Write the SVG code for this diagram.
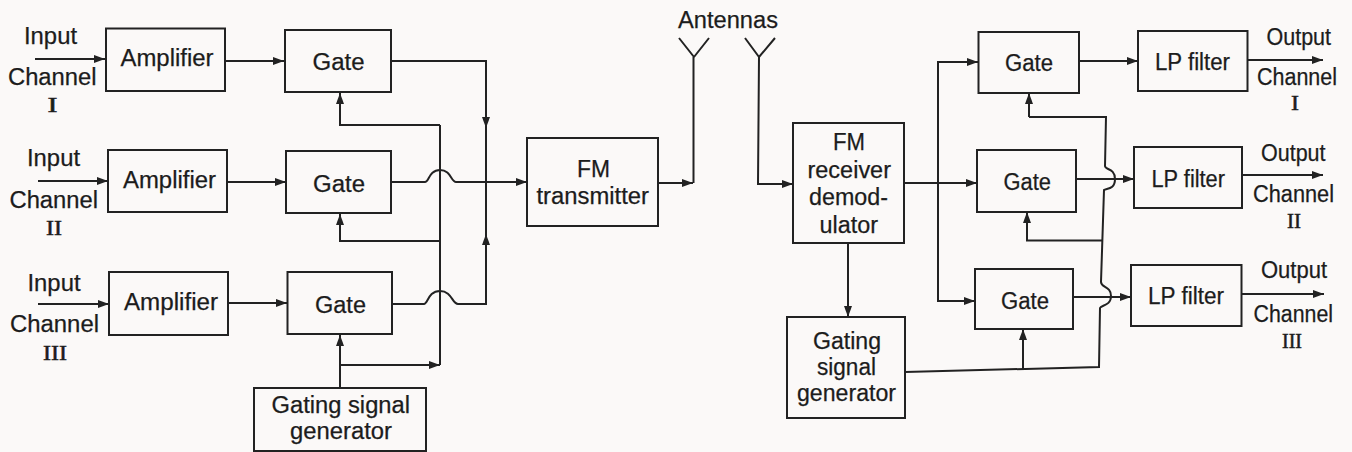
<svg xmlns="http://www.w3.org/2000/svg" width="1352" height="452" viewBox="0 0 1352 452">
<style>
.b{fill:none;stroke:#222;stroke-width:2}
.l{fill:none;stroke:#222;stroke-width:2}
.a{marker-end:url(#h)}
text{font-family:"Liberation Sans",Arial,sans-serif;font-size:23px;fill:#1c1c1c;stroke:#1c1c1c;stroke-width:.25}
.r{font-family:"Liberation Serif","Times New Roman",serif;font-size:20px;stroke-width:.5}
</style>
<defs><marker id="h" markerUnits="userSpaceOnUse" markerWidth="12" markerHeight="10" refX="11" refY="4" orient="auto"><path d="M0 0L11 4L0 8Z" fill="#222"/></marker></defs>
<rect width="1352" height="452" fill="#fbf9f8"/>
<g id="connectors">
<path class="l a" d="M35 59H105"/>
<path class="l a" d="M38 181H108"/>
<path class="l a" d="M38 304H109"/>
<path class="l a" d="M225 61H284"/>
<path class="l a" d="M227 182H286"/>
<path class="l a" d="M228 303H287"/>
<path class="l a" d="M391 61H486V128"/>
<path class="l" d="M486 128V182"/>
<path class="l a" d="M392 304H424C428 304 428 291 440 291C452 291 452 304 458 304H486V234"/>
<path class="l" d="M486 234V182"/>
<path class="l a" d="M391 182H425C429 182 429 170 440 170C451 170 451 182 456 182H527"/>
<path class="l" d="M440 125V365"/>
<path class="l a" d="M440 125H340V93"/>
<path class="l a" d="M440 241H340V214"/>
<path class="l a" d="M340 388V335"/>
<path class="l a" d="M340 365H440"/>
<path class="l a" d="M658 183H693"/>
<path class="l" d="M693.5 183V57M694 57L679 38M694 57L709 38"/>
<path class="l" d="M759 57L745 38M759 57L775 38"/>
<path class="l a" d="M759 57L758 184H793"/>
<path class="l a" d="M904 183H977"/>
<path class="l a" d="M848 243V317"/>
<path class="l a" d="M938 183V62H978"/>
<path class="l a" d="M938 183V301H975"/>
<path class="l a" d="M1079 61H1138"/>
<path class="l a" d="M1076 179H1134"/>
<path class="l a" d="M1073 297H1131"/>
<path class="l a" d="M1247 60H1323"/>
<path class="l a" d="M1242 175H1323"/>
<path class="l a" d="M1241 294H1324"/>
<path class="l" d="M905 372L1099 367L1100 308C1101 305 1111 306 1111 296C1111 286 1101 288 1101 282L1104 190C1106 188 1115 190 1115 179C1115 168 1105 170 1105 166L1106 117H1029"/>
<path class="l a" d="M1029 117V93"/>
<path class="l a" d="M1102 240.500H1027V212"/>
<path class="l a" d="M1023 369V329"/>
</g>
<g id="input1"><text x="24" y="44" textLength="53" lengthAdjust="spacingAndGlyphs">Input</text><text x="8" y="85" textLength="88.500" lengthAdjust="spacingAndGlyphs">Channel</text><text class="r" x="47.500" y="112" textLength="10" lengthAdjust="spacingAndGlyphs">I</text></g>
<g id="input2"><text x="27" y="166" textLength="53" lengthAdjust="spacingAndGlyphs">Input</text><text x="9.500" y="208" textLength="88.500" lengthAdjust="spacingAndGlyphs">Channel</text><text class="r" x="46" y="235" textLength="16" lengthAdjust="spacingAndGlyphs">II</text></g>
<g id="input3"><text x="27.500" y="291" textLength="53" lengthAdjust="spacingAndGlyphs">Input</text><text x="10" y="332" textLength="89" lengthAdjust="spacingAndGlyphs">Channel</text><text class="r" x="43" y="360" textLength="24" lengthAdjust="spacingAndGlyphs">III</text></g>
<g id="amp1"><rect class="b" x="106" y="28.500" width="119" height="62.500"/><text x="120.500" y="66" textLength="93" lengthAdjust="spacingAndGlyphs">Amplifier</text></g>
<g id="amp2"><rect class="b" x="108" y="150" width="119" height="62"/><text x="123" y="188" textLength="93" lengthAdjust="spacingAndGlyphs">Amplifier</text></g>
<g id="amp3"><rect class="b" x="109" y="272" width="119" height="63"/><text x="124" y="310" textLength="94" lengthAdjust="spacingAndGlyphs">Amplifier</text></g>
<g id="gate1"><rect class="b" x="285" y="30" width="106" height="62"/><text x="312.500" y="70" textLength="52" lengthAdjust="spacingAndGlyphs">Gate</text></g>
<g id="gate2"><rect class="b" x="286" y="151" width="105" height="62"/><text x="313" y="192" textLength="52" lengthAdjust="spacingAndGlyphs">Gate</text></g>
<g id="gate3"><rect class="b" x="287.500" y="272" width="104.500" height="62"/><text x="315" y="313" textLength="51" lengthAdjust="spacingAndGlyphs">Gate</text></g>
<g id="fm-transmitter"><rect class="b" x="527" y="138" width="131" height="88"/><text x="577" y="177" textLength="33" lengthAdjust="spacingAndGlyphs">FM</text><text x="536.500" y="204" textLength="112.500" lengthAdjust="spacingAndGlyphs">transmitter</text></g>
<g id="gating-left"><rect class="b" x="254" y="388" width="172" height="63"/><text x="271.500" y="413" textLength="138.500" lengthAdjust="spacingAndGlyphs">Gating signal</text><text x="290" y="439" textLength="102" lengthAdjust="spacingAndGlyphs">generator</text></g>
<g id="antennas"><text x="678" y="28" textLength="100" lengthAdjust="spacingAndGlyphs">Antennas</text></g>
<g id="fm-receiver"><rect class="b" x="793" y="123" width="111" height="120"/><text x="833" y="150" textLength="32" lengthAdjust="spacingAndGlyphs">FM</text><text x="807.500" y="178" textLength="83.500" lengthAdjust="spacingAndGlyphs">receiver</text><text x="809" y="205" textLength="79" lengthAdjust="spacingAndGlyphs">demod-</text><text x="819.500" y="233" textLength="58.500" lengthAdjust="spacingAndGlyphs">ulator</text></g>
<g id="gating-right"><rect class="b" x="787" y="317" width="118" height="101"/><text x="813" y="349" textLength="68" lengthAdjust="spacingAndGlyphs">Gating</text><text x="817" y="375" textLength="59" lengthAdjust="spacingAndGlyphs">signal</text><text x="797" y="401" textLength="99" lengthAdjust="spacingAndGlyphs">generator</text></g>
<g id="gate-r1"><rect class="b" x="978.500" y="32" width="100.500" height="61"/><text x="1005" y="71" textLength="48" lengthAdjust="spacingAndGlyphs">Gate</text></g>
<g id="gate-r2"><rect class="b" x="977" y="150" width="99" height="62"/><text x="1003.500" y="190" textLength="47.500" lengthAdjust="spacingAndGlyphs">Gate</text></g>
<g id="gate-r3"><rect class="b" x="975" y="269" width="98" height="60"/><text x="1001" y="309" textLength="48" lengthAdjust="spacingAndGlyphs">Gate</text></g>
<g id="lp1"><rect class="b" x="1138" y="31" width="109.500" height="60"/><text x="1155" y="70" textLength="75" lengthAdjust="spacingAndGlyphs">LP filter</text></g>
<g id="lp2"><rect class="b" x="1134" y="147" width="108" height="61"/><text x="1151.500" y="187" textLength="73.500" lengthAdjust="spacingAndGlyphs">LP filter</text></g>
<g id="lp3"><rect class="b" x="1131" y="265" width="110.500" height="61"/><text x="1148" y="304" textLength="76" lengthAdjust="spacingAndGlyphs">LP filter</text></g>
<g id="output1"><text x="1266.500" y="45" textLength="64.500" lengthAdjust="spacingAndGlyphs">Output</text><text x="1257" y="85" textLength="80" lengthAdjust="spacingAndGlyphs">Channel</text><text class="r" x="1291" y="110" textLength="8" lengthAdjust="spacingAndGlyphs">I</text></g>
<g id="output2"><text x="1261" y="161" textLength="64.500" lengthAdjust="spacingAndGlyphs">Output</text><text x="1253" y="202" textLength="81" lengthAdjust="spacingAndGlyphs">Channel</text><text class="r" x="1287" y="228" textLength="14" lengthAdjust="spacingAndGlyphs">II</text></g>
<g id="output3"><text x="1261" y="278" textLength="66" lengthAdjust="spacingAndGlyphs">Output</text><text x="1253.500" y="322" textLength="79.500" lengthAdjust="spacingAndGlyphs">Channel</text><text class="r" x="1282" y="348" textLength="20" lengthAdjust="spacingAndGlyphs">III</text></g>
</svg>
